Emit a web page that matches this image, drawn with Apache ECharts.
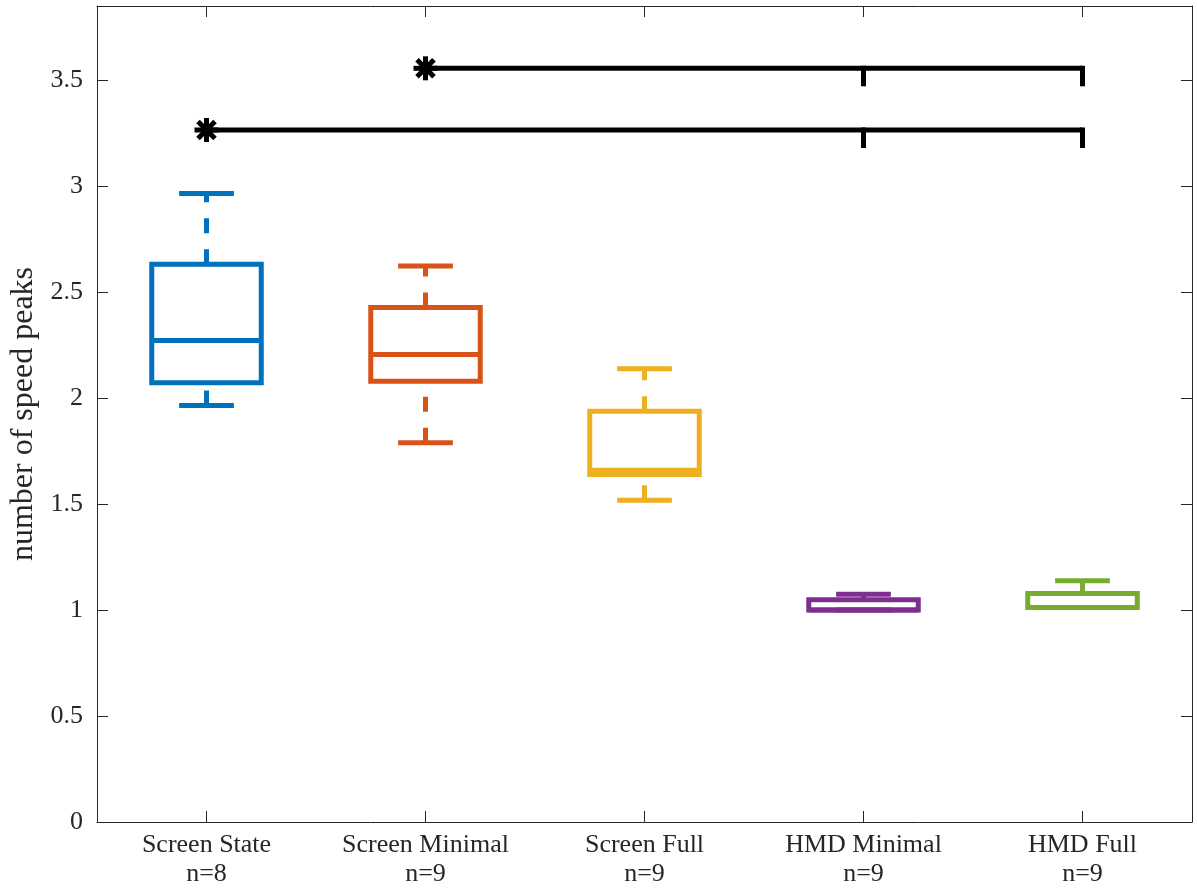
<!DOCTYPE html>
<html><head><meta charset="utf-8">
<script src="https://cdn.jsdelivr.net/npm/echarts@6/dist/echarts.min.js"></script>
<style>html,body{margin:0;padding:0;background:#fff}#c{width:1197px;height:890px}</style>
</head><body><div id="c"></div>
<script>
// ---- data ----
const groupNames = ['Screen State', 'Screen Minimal', 'Screen Full', 'HMD Minimal', 'HMD Full'];
const groupN = [8, 9, 9, 9, 9];
const whiskerLow = [1.965, 1.789, 1.518, 1.000, 1.012];
const q1 = [2.072, 2.080, 1.640, 1.000, 1.012];
const median = [2.272, 2.206, 1.660, 1.000, 1.012];
const q3 = [2.631, 2.427, 1.938, 1.049, 1.078];
const whiskerHigh = [2.965, 2.623, 2.138, 1.074, 1.138];
const boxColors = ['#0072BD', '#D95319', '#EDB120', '#7E2F8E', '#77AC30'];
// significance brackets
const sigStart = [0, 1];          // category with the asterisk
const sigEnd = [4, 4];            // last category of the bracket
const sigLevel = [3.265, 3.556];  // y level of the bracket
const sigTickA = [3, 3];          // categories with a down tick
const sigTickB = [4, 4];
const yMin = 0, yMax = 3.85, yStep = 0.5;

const categoryLabels = groupNames.map((n, i) => n + '\nn=' + groupN[i]);
const boxData = groupNames.map((_, i) => [i, whiskerLow[i], q1[i], median[i], q3[i], whiskerHigh[i]]);
const sigData = sigStart.map((s, i) => [s, sigEnd[i], sigLevel[i], sigTickA[i], sigTickB[i]]);

const FONT = 'Liberation Serif';
const AX = '#262626';

function renderBox(params, api) {
  const i = api.value(0);
  const c = boxColors[i];
  const bw = api.size([1, 0])[0];
  const hb = bw * 0.25, hc = bw * 0.125;
  const pLow = api.coord([i, api.value(1)]);
  const pQ1 = api.coord([i, api.value(2)]);
  const pMed = api.coord([i, api.value(3)]);
  const pQ3 = api.coord([i, api.value(4)]);
  const pHigh = api.coord([i, api.value(5)]);
  const x = pLow[0];
  const lw = 5;
  const solid = { stroke: c, lineWidth: lw, fill: 'none' };
  const dashed = { stroke: c, lineWidth: lw, lineDash: [15, 16], fill: 'none' };
  return {
    type: 'group',
    children: [
      { type: 'line', shape: { x1: x, y1: pQ3[1], x2: x, y2: pHigh[1] }, style: dashed },
      { type: 'line', shape: { x1: x, y1: pLow[1], x2: x, y2: pQ1[1] }, style: dashed },
      { type: 'line', shape: { x1: x - hc, y1: pHigh[1], x2: x + hc, y2: pHigh[1] }, style: solid },
      { type: 'line', shape: { x1: x - hc, y1: pLow[1], x2: x + hc, y2: pLow[1] }, style: solid },
      { type: 'rect', shape: { x: x - hb, y: pQ3[1], width: 2 * hb, height: pQ1[1] - pQ3[1] }, style: solid },
      { type: 'line', shape: { x1: x - hb, y1: pMed[1], x2: x + hb, y2: pMed[1] }, style: solid }
    ]
  };
}

function renderSig(params, api) {
  const pS = api.coord([api.value(0), api.value(2)]);
  const pE = api.coord([api.value(1), api.value(2)]);
  const pA = api.coord([api.value(3), api.value(2)]);
  const pB = api.coord([api.value(4), api.value(2)]);
  const st = { stroke: '#000', lineWidth: 5, fill: 'none' };
  const tickLen = 18;
  const children = [
    { type: 'line', shape: { x1: pS[0], y1: pS[1], x2: pE[0], y2: pE[1] }, style: st },
    { type: 'line', shape: { x1: pA[0], y1: pA[1] - 2.5, x2: pA[0], y2: pA[1] + tickLen }, style: st },
    { type: 'line', shape: { x1: pB[0], y1: pB[1] - 2.5, x2: pB[0], y2: pB[1] + tickLen }, style: st }
  ];
  const r = 12;
  for (let k = 0; k < 4; k++) {
    const a = k * Math.PI / 4;
    const dx = r * Math.sin(a), dy = r * Math.cos(a);
    children.push({ type: 'line', shape: { x1: pS[0] - dx, y1: pS[1] - dy, x2: pS[0] + dx, y2: pS[1] + dy },
      style: { stroke: '#000', lineWidth: 5 } });
  }
  return { type: 'group', children };
}

const tickStyle = { show: true, inside: true, length: 11, lineStyle: { color: AX, width: 1 } };
const lineStyleAx = { show: true, onZero: false, lineStyle: { color: AX, width: 1 } };

const option = {
  backgroundColor: '#fff',
  animation: false,
  grid: { left: 97, right: 5, top: 6, bottom: 68, containLabel: false, outerBoundsMode: 'none' },
  xAxis: [
    { type: 'category', data: categoryLabels, position: 'bottom', boundaryGap: true,
      axisLine: lineStyleAx, axisTick: Object.assign({ alignWithLabel: true, interval: 0 }, tickStyle),
      axisLabel: { interval: 0, fontFamily: FONT, fontSize: 26, color: AX, lineHeight: 29, margin: 9 },
      splitLine: { show: false } },
    { type: 'category', data: categoryLabels, position: 'top', boundaryGap: true,
      axisLine: lineStyleAx, axisTick: Object.assign({ alignWithLabel: true, interval: 0 }, tickStyle),
      axisLabel: { show: false }, splitLine: { show: false } }
  ],
  yAxis: [
    { type: 'value', min: yMin, max: yMax, interval: yStep, position: 'left',
      axisLine: lineStyleAx, axisTick: tickStyle,
      axisLabel: { fontFamily: FONT, fontSize: 26, color: AX, margin: 14, showMaxLabel: false,
        formatter: v => (Math.abs(v / yStep - Math.round(v / yStep)) < 1e-6 ? String(Math.round(v * 10) / 10) : '') },
      splitLine: { show: false },
      name: 'number of speed peaks', nameLocation: 'middle', nameGap: 57,
      nameTextStyle: { fontFamily: FONT, fontSize: 32, color: AX } },
    { type: 'value', min: yMin, max: yMax, interval: yStep, position: 'right',
      axisLine: lineStyleAx, axisTick: tickStyle, axisLabel: { show: false }, splitLine: { show: false } }
  ],
  series: [
    { type: 'custom', name: 'boxes', xAxisIndex: 0, yAxisIndex: 0, renderItem: renderBox,
      encode: { x: 0, y: [1, 2, 3, 4, 5] }, data: boxData, z: 2 },
    { type: 'custom', name: 'significance', xAxisIndex: 0, yAxisIndex: 0, renderItem: renderSig,
      encode: { x: [0, 1], y: 2 }, data: sigData, z: 3 }
  ]
};
const chart = echarts.init(document.getElementById('c'), null, { renderer: 'canvas' });
chart.setOption(option);
</script></body></html>
